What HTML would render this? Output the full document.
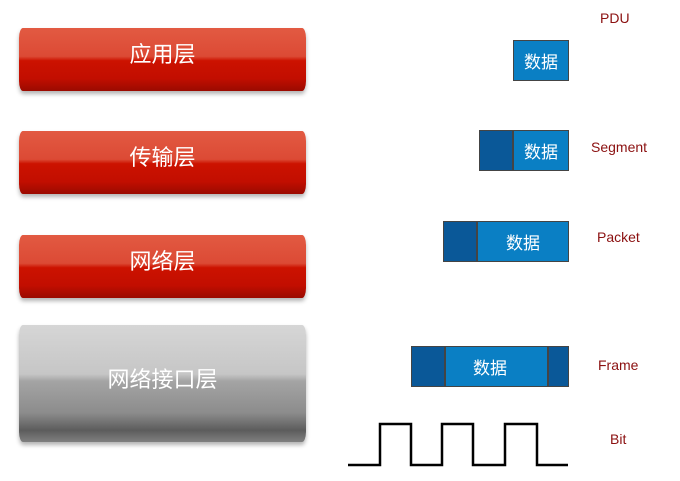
<!DOCTYPE html>
<html><head><meta charset="utf-8"><style>
body{margin:0;width:680px;height:481px;background:#fff;position:relative;overflow:hidden;font-family:"Liberation Sans","Noto Sans CJK SC",sans-serif}
.bar{position:absolute;left:19px;width:287px;border-radius:4px/10px;color:#fff;font-size:22px;display:flex;align-items:center;justify-content:center;box-shadow:0 3px 4px rgba(0,0,0,.3);box-sizing:border-box}
.red{height:63px;padding-bottom:14px;background:linear-gradient(#e25a42 0%,#dc4a35 45%,#cc1200 52%,#c20e00 80%,#9a0a00 100%)}
.gray{height:117px;top:325px;padding-bottom:12px;background:linear-gradient(#d6d6d6 0%,#c6c6c6 42%,#a4a4a4 48%,#8c8c8c 75%,#5c5c5c 90%,#808080 100%)}
.box{position:absolute;height:41px;background:#0a7fc4;border:1px solid #444;box-sizing:border-box;color:#fff;font-size:17px;display:flex;align-items:center;justify-content:center}
.dk{position:absolute;top:0;bottom:0;background:#0a5898;border-right:2px solid #444}
.lbl{position:absolute;color:#8b1010;font-size:14px}
</style></head><body>
<div class="bar red" style="top:28px">应用层</div>
<div class="bar red" style="top:131px">传输层</div>
<div class="bar red" style="top:235px">网络层</div>
<div class="bar gray">网络接口层</div>

<div class="box" style="left:513px;top:40px;width:56px">数据</div>
<div class="box" style="left:479px;top:130px;width:90px;padding-left:34px"><div class="dk" style="left:0;width:32px"></div>数据</div>
<div class="box" style="left:443px;top:221px;width:126px;padding-left:34px"><div class="dk" style="left:0;width:32px"></div>数据</div>
<div class="box" style="left:411px;top:346px;width:158px;padding-left:0"><div class="dk" style="left:0;width:32px"></div><div class="dk" style="right:0;width:19px;border-right:none;border-left:2px solid #444"></div>数据</div>

<svg style="position:absolute;left:0;top:0" width="680" height="481">
<polyline fill="none" stroke="#000" stroke-width="2.5" points="348,465 380,465 380,424 411,424 411,465 442,465 442,424 473,424 473,465 505,465 505,424 537,424 537,465 568,465"/>
</svg>

<div class="lbl" style="left:600px;top:10px">PDU</div>
<div class="lbl" style="left:591px;top:139px">Segment</div>
<div class="lbl" style="left:597px;top:229px">Packet</div>
<div class="lbl" style="left:598px;top:357px">Frame</div>
<div class="lbl" style="left:610px;top:431px">Bit</div>
</body></html>
